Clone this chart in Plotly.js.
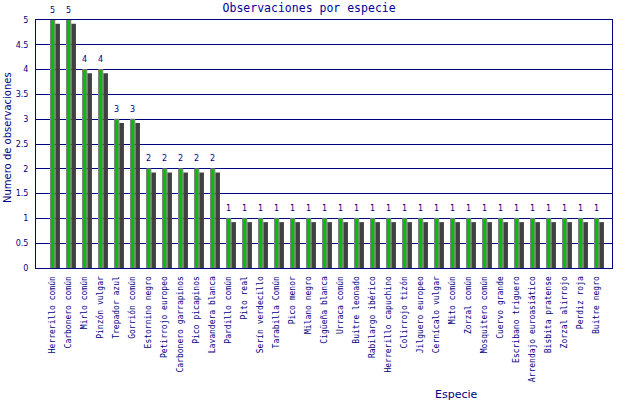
<!DOCTYPE html>
<html>
<head>
<meta charset="utf-8">
<script src="https://cdn.plot.ly/plotly-3.0.1.min.js"></script>
<style>
  html, body { margin: 0; padding: 0; background: #ffffff; }
  #chart { width: 640px; height: 400px; }
</style>
</head>
<body>
<div id="chart"></div>
<script>
var species = [
  'Herrerillo común', 'Carbonero común', 'Mirlo común', 'Pinzón vulgar',
  'Trepador azul', 'Gorrión común', 'Estornino negro', 'Petirrojo europeo',
  'Carbonero garrapinos', 'Pico picapinos', 'Lavandera blanca', 'Pardillo común',
  'Pito real', 'Serín verdecillo', 'Tarabilla Común', 'Pico menor',
  'Milano negro', 'Cigüeña blanca', 'Urraca común', 'Buitre leonado',
  'Rabilargo ibérico', 'Herrerillo capuchino', 'Colirrojo tizón', 'Jilguero europeo',
  'Cernícalo vulgar', 'Mito común', 'Zorzal común', 'Mosquitero común',
  'Cuervo grande', 'Escribano triguero', 'Arrendajo euroasiático', 'Bisbita pratense',
  'Zorzal alirrojo', 'Perdiz roja', 'Buitre negro'
];

var counts = [
  5, 5, 4, 4, 3, 3, 2, 2, 2, 2, 2, 1,
  1, 1, 1, 1, 1, 1, 1, 1, 1, 1, 1, 1,
  1, 1, 1, 1, 1, 1, 1, 1, 1, 1, 1
];

var yTicks = [0, 0.5, 1, 1.5, 2, 2.5, 3, 3.5, 4, 4.5, 5];

var navy = '#000080';

// dark "shadow" bar, shifted right and a bit down
var shadow = {
  type: 'bar',
  x: species,
  y: counts,
  base: -0.075,
  offset: 0.166,
  width: 0.29,
  marker: { color: '#404040', line: { width: 0 } },
  hoverinfo: 'skip',
  showlegend: false
};

var bars = {
  type: 'bar',
  x: species,
  y: counts,
  offset: -0.135,
  width: 0.27,
  marker: { color: '#00c000', line: { color: '#808080', width: 1 } },
  hoverinfo: 'x+y',
  showlegend: false
};

// value labels above the bars (invisible markers just push the text up)
var labels = {
  type: 'scatter',
  mode: 'markers+text',
  x: species,
  y: counts,
  text: counts.map(String),
  textposition: 'top center',
  cliponaxis: false,
  marker: { size: 7, color: 'rgba(0,0,0,0)' },
  textfont: { family: 'DejaVu Sans', size: 8, color: navy },
  hoverinfo: 'skip',
  showlegend: false
};

var layout = {
  width: 640,
  height: 400,
  margin: { l: 36, r: 28, t: 20, b: 132, pad: 0 },
  paper_bgcolor: '#ffffff',
  plot_bgcolor: '#ffffff',
  barmode: 'overlay',
  title: {
    text: 'Observaciones por especie',
    font: { family: 'DejaVu Sans Mono', size: 11.5, color: '#000099' },
    xref: 'container', x: 0.483, xanchor: 'center',
    yref: 'container', y: 0.979, yanchor: 'middle'
  },
  xaxis: {
    type: 'category',
    range: [-1.04, 34.96],
    tickangle: -90,
    tickfont: { family: 'DejaVu Sans Mono', size: 8, color: navy },
    ticks: '',
    showgrid: false,
    zeroline: false,
    showline: true,
    mirror: true,
    linecolor: navy,
    linewidth: 1,
    ticklabelstandoff: 4
  },
  yaxis: {
    range: [0, 5],
    tickvals: yTicks,
    ticktext: yTicks.map(String),
    tickfont: { family: 'DejaVu Sans', size: 8, color: navy },
    ticks: '',
    showgrid: true,
    gridcolor: navy,
    gridwidth: 1,
    zeroline: false,
    showline: true,
    mirror: true,
    linecolor: navy,
    linewidth: 1,
    ticklabelstandoff: 5
  },
  annotations: [
    {
      xref: 'paper', yref: 'paper',
      x: (456 - 36) / 576, xanchor: 'center',
      y: -(394 - 268) / 248, yanchor: 'middle',
      text: 'Especie',
      showarrow: false,
      font: { family: 'DejaVu Sans', size: 11, color: navy }
    },
    {
      xref: 'paper', yref: 'paper',
      x: -(36 - 7) / 576, xanchor: 'center',
      y: (268 - 138) / 248, yanchor: 'middle',
      text: 'Numero de observaciones',
      textangle: -90,
      showarrow: false,
      font: { family: 'DejaVu Sans', size: 10, color: navy }
    }
  ]
};

Plotly.newPlot('chart', [shadow, bars, labels], layout, {
  displayModeBar: false,
  responsive: false
});
</script>
</body>
</html>
